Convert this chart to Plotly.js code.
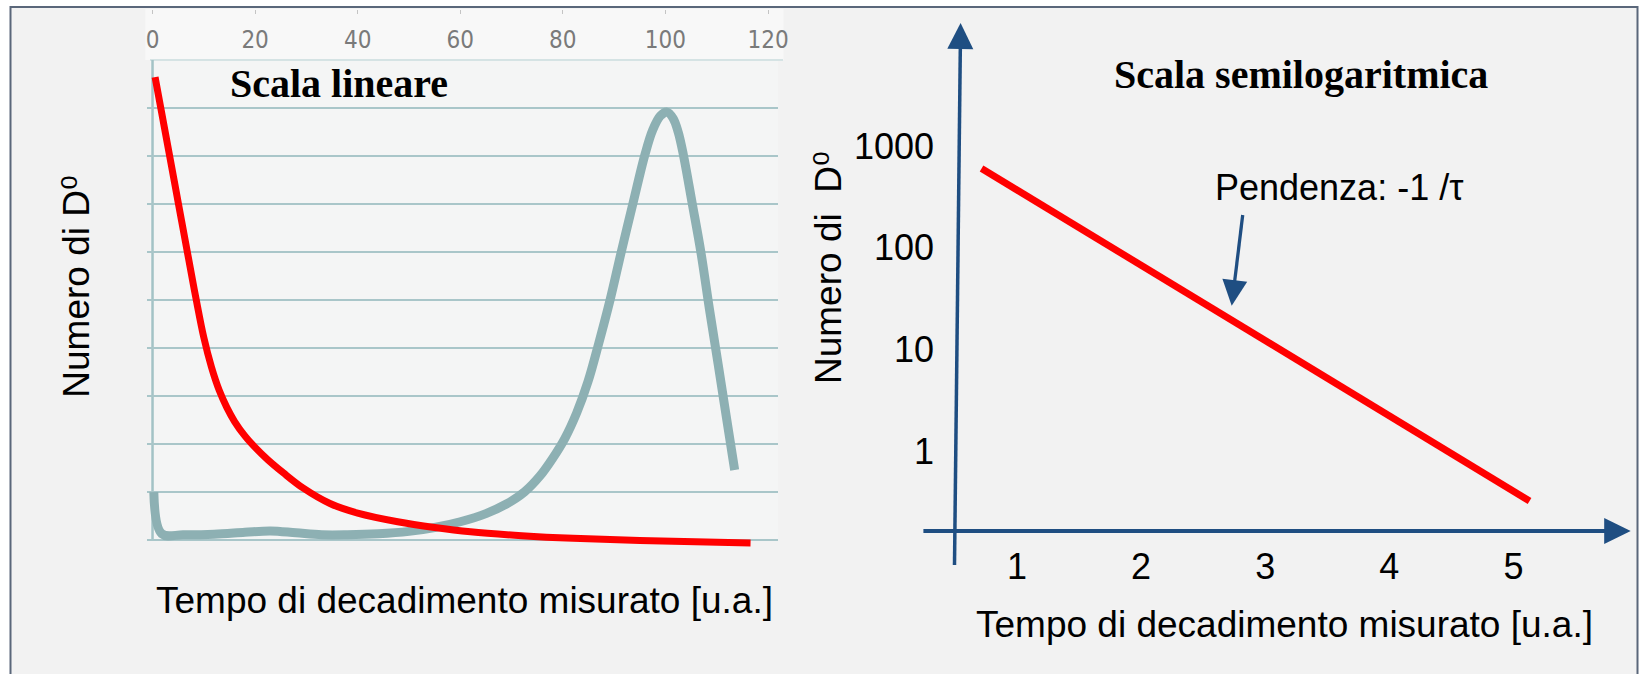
<!DOCTYPE html>
<html><head><meta charset="utf-8">
<script src="https://cdn.plot.ly/plotly-3.0.1.min.js"></script>
<style>html,body{margin:0;padding:0;background:#fff}#chart{width:1641px;height:674px}</style>
</head><body><div id="chart"></div>
<script>
const W = 1641, H = 674;
const px = x => x / W, py = y => 1 - y / H;

// ---- left panel: linear scale ----
const linTickVals = [0, 20, 40, 60, 80, 100, 120];
const linTickText = ['0', '20', '40', '60', '80', '100', '120'];
const gridVals = [0, 1, 2, 3, 4, 5, 6, 7, 8, 9];

const redX = [0.5, 3, 5, 7, 8.5, 10, 11.5, 13, 14.5, 16, 18, 20, 22.5, 25.5, 29.4, 34.6, 40, 47.8, 55, 62, 72, 82, 95, 116.6];
const redY = [9.65, 8.2, 7.04, 5.88, 5.02, 4.22, 3.6, 3.12, 2.76, 2.47, 2.17, 1.93, 1.67, 1.4, 1.08, 0.76, 0.56, 0.38, 0.26, 0.17, 0.09, 0.035, -0.01, -0.06];

const grayX = [0.25, 1.8, 6, 12, 18, 23, 28, 33, 38, 44, 50, 55, 60, 65, 69, 72.5, 75.5, 78.0, 80.4, 82.7, 84.9, 87.0, 89.2, 91.4, 93.7, 96.0, 97.5, 99.0, 100.3, 101.5, 102.5, 103.5, 105.2, 106.9, 108.6, 110.3, 111.9, 113.5];
const grayY = [1.0, 0.13, 0.11, 0.12, 0.16, 0.19, 0.15, 0.11, 0.11, 0.13, 0.18, 0.26, 0.38, 0.55, 0.75, 1.0, 1.33, 1.7, 2.12, 2.65, 3.3, 4.1, 5.0, 6.01, 7.03, 8.03, 8.54, 8.84, 8.92, 8.79, 8.5, 8.03, 7.03, 6.01, 4.8, 3.65, 2.55, 1.46];

// ---- right panel: semi-log scale ----
const semiX = [0.714, 5.13];
const semiY = [605, 0.322];
const semiXTicks = [1, 2, 3, 4, 5];
const semiXText = ['1', '2', '3', '4', '5'];
const semiYTicks = [1, 10, 100, 1000];
const semiYText = ['1', '10', '100', '1000'];

const SANS = '"Liberation Sans", Arial, "DejaVu Sans", sans-serif';
const NARROW = '"Liberation Sans Narrow", "DejaVu Sans Condensed", "Liberation Sans", sans-serif';
const SERIF = '"Liberation Serif", "Times New Roman", serif';
const BLUE = '#1f4e82';

// arrow decoration (line + triangular head) in figure pixels -> paper shapes
function arrow(tail, tip, len, wid, lw) {
  const dx = tip[0] - tail[0], dy = tip[1] - tail[1];
  const L = Math.hypot(dx, dy), ux = dx / L, uy = dy / L, nx = -uy, ny = ux;
  const bx = tip[0] - ux * len, by = tip[1] - uy * len;
  const p = (x, y) => px(x).toFixed(5) + ',' + py(y).toFixed(5);
  return [
    {type: 'line', xref: 'paper', yref: 'paper', x0: px(tail[0]), y0: py(tail[1]),
     x1: px(bx + ux * 2), y1: py(by + uy * 2), line: {color: BLUE, width: lw}},
    {type: 'path', xref: 'paper', yref: 'paper',
     path: 'M' + p(tip[0], tip[1]) + 'L' + p(bx + nx * wid / 2, by + ny * wid / 2) +
           'L' + p(bx - nx * wid / 2, by - ny * wid / 2) + 'Z',
     fillcolor: BLUE, line: {width: 0}}
  ];
}

const traces = [
  {x: grayX, y: grayY, xaxis: 'x', yaxis: 'y', mode: 'lines', hoverinfo: 'skip',
   line: {color: '#8db0b3', width: 9, shape: 'spline', smoothing: 1}},
  {x: redX, y: redY, xaxis: 'x', yaxis: 'y', mode: 'lines', hoverinfo: 'skip',
   line: {color: '#ff0000', width: 7, shape: 'spline', smoothing: 1}},
  {x: semiX, y: semiY, xaxis: 'x2', yaxis: 'y2', mode: 'lines', hoverinfo: 'skip',
   line: {color: '#ff0000', width: 7}}
];

const layout = {
  width: W, height: H, autosize: false,
  margin: {l: 0, r: 0, t: 0, b: 0},
  paper_bgcolor: '#ffffff', plot_bgcolor: 'rgba(0,0,0,0)',
  showlegend: false,
  xaxis: {domain: [px(147.4), px(778)], range: [-1, 121.95], anchor: 'free', position: py(9),
          side: 'bottom', tickmode: 'array', tickvals: linTickVals, ticktext: linTickText,
          ticks: 'outside', ticklen: 4, tickwidth: 1, tickcolor: '#c4c4c4', ticklabelstandoff: 5,
          tickfont: {family: NARROW, size: 24, color: '#7a7a7a'},
          showgrid: false, zeroline: false, showline: false, fixedrange: true},
  yaxis: {domain: [py(554.4), py(60)], range: [-0.3, 10.006], tickmode: 'array', tickvals: gridVals,
          showticklabels: false, ticks: '', showgrid: true, gridcolor: '#a9c6c9', gridwidth: 2,
          zeroline: false, showline: false, fixedrange: true},
  xaxis2: {domain: [px(955), px(1630.7)], range: [0.5, 5.945], anchor: 'y2',
           tickmode: 'array', tickvals: semiXTicks, ticktext: semiXText, ticks: '',
           ticklabelstandoff: 11, tickfont: {family: SANS, size: 36, color: '#000'},
           showgrid: false, zeroline: false, showline: false, fixedrange: true},
  yaxis2: {domain: [py(531), py(23)], type: 'log', range: [-0.788, 4.214], anchor: 'x2',
           tickmode: 'array', tickvals: semiYTicks, ticktext: semiYText, ticks: '',
           ticklabelstandoff: 20, tickfont: {family: SANS, size: 36, color: '#000'},
           showgrid: false, zeroline: false, showline: false, fixedrange: true},
  shapes: [
    {type: 'rect', xref: 'paper', yref: 'paper', x0: px(10.5), x1: px(1637.5), y0: -0.05, y1: py(7),
     fillcolor: '#f2f2f2', line: {color: '#5a677a', width: 2}, layer: 'below'},
    {type: 'rect', xref: 'paper', yref: 'paper', x0: px(145.4), x1: px(783.5), y0: py(60), y1: py(9),
     fillcolor: '#f8f8f8', line: {width: 0}, layer: 'below'},
    {type: 'rect', xref: 'paper', yref: 'paper', x0: px(150), x1: px(778), y0: py(541), y1: py(60),
     fillcolor: '#f4f5f5', line: {width: 0}, layer: 'below'},
    {type: 'line', xref: 'paper', yref: 'paper', x0: px(150), x1: px(783), y0: py(60), y1: py(60),
     line: {color: '#d5e3e4', width: 2}, layer: 'below'},
    {type: 'line', xref: 'x', yref: 'y', x0: 0, x1: 0, y0: 0, y1: 10.006,
     line: {color: '#a3c3c6', width: 2.5}, layer: 'below'},
    // semilog panel axes (arrows) and slope pointer
    ...arrow([954.5, 565], [960.6, 23], 26, 26, 3.5),
    ...arrow([923.4, 531], [1630.7, 531], 26.5, 26, 4),
    ...arrow([1242.7, 215], [1231.7, 305.7], 25.7, 25, 3.3)
  ],
  annotations: [
    {xref: 'paper', yref: 'paper', x: px(339), y: py(83.3), xanchor: 'center', yanchor: 'middle',
     text: '<b>Scala lineare</b>', showarrow: false, font: {family: SERIF, size: 40, color: '#000'}},
    {xref: 'paper', yref: 'paper', x: px(1300.5), y: py(74.5), xanchor: 'center', yanchor: 'middle',
     text: '<b>Scala semilogaritmica</b>', showarrow: false, font: {family: SERIF, size: 40, color: '#000'}},
    {xref: 'paper', yref: 'paper', x: px(464), y: py(600), xanchor: 'center', yanchor: 'middle',
     text: 'Tempo di decadimento misurato [u.a.]', showarrow: false, font: {family: SANS, size: 37, color: '#000'}},
    {xref: 'paper', yref: 'paper', x: px(1284), y: py(624), xanchor: 'center', yanchor: 'middle',
     text: 'Tempo di decadimento misurato [u.a.]', showarrow: false, font: {family: SANS, size: 37, color: '#000'}},
    {xref: 'paper', yref: 'paper', x: px(77), y: py(286.7), xanchor: 'center', yanchor: 'middle', textangle: -90,
     text: 'Numero di D\u2070', showarrow: false, font: {family: SANS, size: 37, color: '#000'}},
    {xref: 'paper', yref: 'paper', x: px(828), y: py(268), xanchor: 'center', yanchor: 'middle', textangle: -90,
     text: 'Numero di\u00a0 D\u2070', showarrow: false, font: {family: SANS, size: 37, color: '#000'}},
    {xref: 'paper', yref: 'paper', x: px(1212.7), y: py(187.5), xanchor: 'left', yanchor: 'middle',
     text: 'Pendenza: -1 /τ', showarrow: false, font: {family: SANS, size: 36, color: '#000'}}
  ]
};

Plotly.newPlot('chart', traces, layout, {staticPlot: true, displayModeBar: false});
</script>
</body></html>
